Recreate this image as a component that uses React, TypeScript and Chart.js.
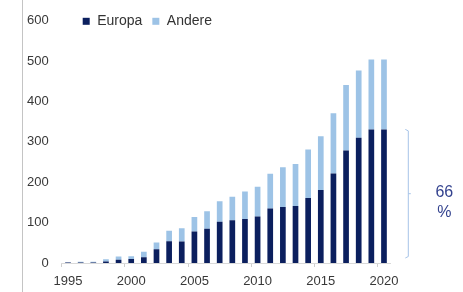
import React, { useEffect, useRef } from "react";
import { Chart, registerables } from "chart.js";

Chart.register(...registerables);

const years = [
  "1995", "1996", "1997", "1998", "1999", "2000", "2001", "2002", "2003", "2004",
  "2005", "2006", "2007", "2008", "2009", "2010", "2011", "2012", "2013", "2014",
  "2015", "2016", "2017", "2018", "2019", "2020",
];
const europa = [1, 1, 1, 4, 8, 10, 14, 34, 54, 53, 78, 85, 102, 106, 109, 115, 135, 139, 141, 161, 181, 222, 279, 310, 331, 331];
const andere = [1, 2, 2, 5, 8, 7, 14, 17, 26, 33, 36, 43, 51, 58, 68, 74, 86, 98, 104, 120, 133, 149, 162, 167, 173, 173];
const yTicks = [0, 100, 200, 300, 400, 500, 600];
const seriesNames = ["Europa", "Andere"];
const shareText = ["66", "%"];

const EUROPA_COLOR = "#0b1f5e";
const ANDERE_COLOR = "#9dc3e6";
const TEXT_COLOR = "#383838";
const FONT = "'Liberation Sans', Arial, Helvetica, sans-serif";

const overlay = {
  id: "overlay",
  afterDraw(chart: any) {
    const ctx = chart.ctx;
    const area = chart.chartArea;
    const ys = chart.scales.y;
    ctx.save();
    // decorative left rule
    ctx.strokeStyle = "#c4c4c4";
    ctx.lineWidth = 1;
    ctx.beginPath();
    ctx.moveTo(22.5, 0);
    ctx.lineTo(22.5, chart.height);
    ctx.stroke();

    // legend
    ctx.font = `14px ${FONT}`;
    ctx.textBaseline = "middle";
    ctx.textAlign = "left";
    const ly = area.top + 0.5;
    let lx = area.left + 21;
    const colors = [EUROPA_COLOR, ANDERE_COLOR];
    seriesNames.forEach((name, i) => {
      ctx.fillStyle = colors[i];
      ctx.fillRect(lx, ly - 3.5, 7, 7);
      ctx.fillStyle = "#333333";
      ctx.fillText(name, lx + 14.5, ly);
      lx += 14.5 + ctx.measureText(name).width + 10;
    });

    // bracket
    const top = ys.getPixelForValue(europa[europa.length - 1]);
    const bottom = ys.getPixelForValue(0) - 5;
    const xb = area.right + 18;
    const mid = (top + bottom) / 2;
    ctx.strokeStyle = "#a7c4e8";
    ctx.lineWidth = 1;
    ctx.beginPath();
    ctx.moveTo(xb - 3, top);
    ctx.lineTo(xb, top + 1.5);
    ctx.lineTo(xb, bottom - 1.5);
    ctx.lineTo(xb - 3, bottom);
    ctx.moveTo(xb, mid);
    ctx.lineTo(xb + 2.5, mid);
    ctx.stroke();

    // share text
    ctx.fillStyle = "#34438f";
    ctx.font = `16px ${FONT}`;
    ctx.textAlign = "center";
    ctx.fillText(shareText[0], xb + 36, mid - 1);
    ctx.fillText(shareText[1], xb + 36, mid + 19);
    ctx.restore();
  },
};

export default function App() {
  const ref = useRef<HTMLCanvasElement | null>(null);
  useEffect(() => {
    if (!ref.current) return;
    const chart = new Chart(ref.current, {
      type: "bar",
      data: {
        labels: years,
        datasets: [
          {
            label: seriesNames[0],
            data: europa,
            backgroundColor: EUROPA_COLOR,
            barPercentage: 0.45,
            categoryPercentage: 1,
          },
          {
            label: seriesNames[1],
            data: andere,
            backgroundColor: ANDERE_COLOR,
            barPercentage: 0.45,
            categoryPercentage: 1,
          },
        ],
      },
      options: {
        responsive: false,
        animation: false,
        devicePixelRatio: 1,
        layout: { padding: { top: 17, right: 72.7, bottom: 0, left: 0 } },
        plugins: { legend: { display: false }, tooltip: { enabled: false } },
        scales: {
          x: {
            stacked: true,
            offset: true,
            grid: {
              display: true,
              drawOnChartArea: false,
              drawTicks: true,
              tickLength: 4,
              tickColor: (c: any) => (c.index % 5 === 0 && c.index < years.length ? "#cfcfcf" : "rgba(0,0,0,0)"),
            },
            border: { display: true, color: "#d9d9d9", width: 1 },
            ticks: {
              autoSkip: false,
              maxRotation: 0,
              minRotation: 0,
              padding: 7,
              color: TEXT_COLOR,
              font: { family: FONT, size: 13 },
              callback: (_v: any, i: number) => (i % 5 === 0 ? years[i] : ""),
            },
            afterFit: (s: any) => {
              s.height = 29;
            },
          },
          y: {
            stacked: true,
            min: yTicks[0],
            max: yTicks[yTicks.length - 1],
            grid: { display: false, drawTicks: false },
            border: { display: false },
            afterBuildTicks: (s: any) => {
              s.ticks = yTicks.map((v) => ({ value: v }));
            },
            ticks: {
              padding: 13,
              color: TEXT_COLOR,
              font: { family: FONT, size: 13 },
            },
            afterFit: (s: any) => {
              s.width = 61.7;
            },
          },
        },
      },
      plugins: [overlay],
    });
    return () => chart.destroy();
  }, []);
  return (
    <div style={{ position: "fixed", left: 0, top: 0, width: 463, height: 292, background: "#fff" }}>
      <canvas ref={ref} width={463} height={292} style={{ display: "block" }} />
    </div>
  );
}
